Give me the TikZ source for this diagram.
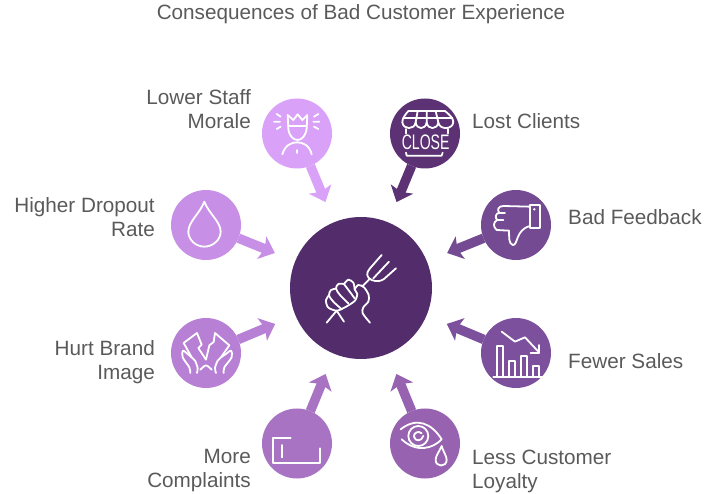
\documentclass[tikz,border=0pt]{standalone}
\usepackage{fontspec}
\setmainfont{Liberation Sans}
\usetikzlibrary{arrows.meta}
\definecolor{inkgray}{HTML}{5A5A5A}
\definecolor{hubcol}{HTML}{532C6C}
\definecolor{closecol}{HTML}{5C3274}
\definecolor{thumbcol}{HTML}{744A92}
\definecolor{salescol}{HTML}{7C509C}
\definecolor{eyecol}{HTML}{9763B0}
\definecolor{boxcol}{HTML}{A873C2}
\definecolor{brandcol}{HTML}{B780D4}
\definecolor{dropcol}{HTML}{C88FE6}
\definecolor{staffcol}{HTML}{D9A1F7}
\tikzset{
  spot/.style={circle,fill=#1,minimum size=70pt,inner sep=0pt,outer sep=0pt},
  hub/.style={circle,fill=hubcol,minimum size=142pt,inner sep=0pt,outer sep=0pt},
  push/.style={draw=#1,line width=9.5pt,shorten >=22pt,
    -{Stealth[length=14pt,width=24pt,inset=3pt]}},
  tag/.style={font=\fontsize{20.7}{24}\selectfont,text=inkgray,inner sep=0pt},
  zoomed/.style={shift={(#1)},x=0.3333pt,y=-0.3333pt,white,line width=1.8pt,
    line cap=round,line join=round},
}
\begin{document}
\begin{tikzpicture}[x=1pt,y=-1pt]
  \useasboundingbox (0,0) rectangle (710,494);

  % the title
  \node[tag] (title) at (361,14) {Consequences of Bad Customer Experience};

  % the hub and the eight spots round it
  \node[hub] (hub) at (361,288) {};
  \node[spot=staffcol] (staff) at (297,133.5) {};
  \node[spot=closecol] (close) at (425,133.5) {};
  \node[spot=thumbcol] (thumb) at (516,225) {};
  \node[spot=salescol] (sales) at (516,353) {};
  \node[spot=eyecol] (eye) at (425,443.5) {};
  \node[spot=boxcol] (box) at (297,443.5) {};
  \node[spot=brandcol] (brand) at (206,353) {};
  \node[spot=dropcol] (drop) at (206,225) {};

  % the arrows
  \draw[push=staffcol] (staff) -- (hub);
  \draw[push=closecol] (close) -- (hub);
  \draw[push=thumbcol] (thumb) -- (hub);
  \draw[push=salescol] (sales) -- (hub);
  \draw[push=eyecol] (eye) -- (hub);
  \draw[push=boxcol] (box) -- (hub);
  \draw[push=brandcol] (brand) -- (hub);
  \draw[push=dropcol] (drop) -- (hub);

  % the labels
  \node[tag,align=right,anchor=east] (stafftag) at (251,109) {Lower Staff\\Morale};
  \node[tag,anchor=west] (closetag) at (472,121) {Lost Clients};
  \node[tag,anchor=west] (thumbtag) at (568,217) {Bad Feedback};
  \node[tag,anchor=west] (salestag) at (568,361) {Fewer Sales};
  \node[tag,align=left,anchor=west] (eyetag) at (472,471) {Less Customer\\Loyalty};
  \node[tag,align=right,anchor=east] (boxtag) at (251,471) {More\\Complaints};
  \node[tag,align=right,anchor=east] (brandtag) at (155,362.5) {Hurt Brand\\Image};
  \node[tag,align=right,anchor=east] (droptag) at (155,217) {Higher Dropout\\Rate};

  % hand and fork
  \begin{scope}[zoomed={320,250}]
    \draw (185,15) -- (150,55) .. controls (138,68) and (138,82) .. (155,90)
      .. controls (170,96) and (182,94) .. (192,87) -- (228,55);
    \draw (207,35) -- (160,85);
    \draw (148,88) -- (128,108);
    \draw (50,182) -- (20,218) (50,182) -- (72,215);
    \draw plot[smooth] coordinates {(72,102) (85,89) (100,98) (104,118)};
    \draw plot[smooth] coordinates {(104,118) (115,105) (132,112) (146,135) (145,155) (130,172) (128,190) (150,218)};
    \draw (104,118) -- (112,132);
    \draw plot[smooth] coordinates {(72,102) (55,102) (48,116) (60,135) (85,160)};
    \draw plot[smooth] coordinates {(48,116) (33,120) (27,136) (40,155) (62,175)};
    \draw plot[smooth] coordinates {(27,136) (18,150) (24,172) (50,182) (75,172) (105,152) (112,132)};
    \draw (72,102) -- (104,145);
  \end{scope}

  % crowned head
  \begin{scope}[zoomed={250,85}]
    \draw (113,90) -- (130,105) -- (143,88) -- (157,105) -- (172,90) -- (170,130)
      .. controls (168,152) and (155,165) .. (143,165)
      .. controls (130,165) and (116,152) .. (115,130) -- cycle;
    \draw (115,122) -- (170,122);
    \draw (97,208) .. controls (105,180) and (125,172) .. (141,172)
      .. controls (158,172) and (178,180) .. (185,208);
    \draw (141,195) -- (141,204);
    \draw (80,87) -- (92,95) (72,110) -- (90,110) (80,132) -- (92,125);
    \draw (205,87) -- (192,95) (208,110) -- (190,110) (205,132) -- (192,125);
  \end{scope}

  % shop
  \begin{scope}[zoomed={250,85}]
    \draw (475,78) -- (585,78) .. controls (600,90) and (610,100) .. (610,112)
      (475,78) .. controls (465,90) and (457,100) .. (457,112);
    \draw (460,98) -- (607,98);
    \draw (503,78) -- (497,112) (530,78) -- (530,112) (557,78) -- (565,112);
    \draw (457,112) .. controls (460,135) and (494,135) .. (497,112)
      .. controls (500,135) and (527,135) .. (530,112)
      .. controls (533,135) and (562,135) .. (565,112)
      .. controls (568,135) and (607,135) .. (610,112);
    \draw (468,132) -- (468,145) (594,132) -- (594,145);
    \node[inner sep=0pt,text=white,font=\fontsize{21}{21}\selectfont,xscale=.67] (closeword) at (527,172) {CLOSE};
    \draw (468,203) -- (470,212) -- (575,212) -- (578,203);
  \end{scope}

  % thumb down
  \begin{scope}[zoomed={440,180}]
    \draw (270,75) rectangle (300,143);
    \fill (283,88) circle (1.3pt);
    \draw (270,80) -- (190,78) .. controls (175,78) and (170,90) .. (178,98)
      .. controls (165,100) and (165,115) .. (172,120)
      .. controls (160,125) and (158,140) .. (170,150)
      -- (207,152) .. controls (208,170) and (205,190) .. (218,195)
      .. controls (235,197) and (225,150) .. (270,138);
    \draw (178,98) -- (195,98) (172,120) -- (190,120);
  \end{scope}

  % falling bars
  \begin{scope}[zoomed={440,180}]
    \draw (160,590) -- (305,590);
    \draw (170,590) -- (170,498) -- (190,498) -- (190,590);
    \draw (207,590) -- (207,543) -- (225,543) -- (225,590);
    \draw (243,590) -- (243,528) -- (262,528) -- (262,590);
    \draw (280,590) -- (280,558) -- (298,558) -- (298,590);
    \draw (185,455) -- (225,485) -- (255,472) -- (298,518);
    \draw (298,495) -- (298,518) -- (272,518);
  \end{scope}

  % crying eye
  \begin{scope}[zoomed={250,370}]
    \draw (452,178) .. controls (500,140) and (545,160) .. (575,208)
      .. controls (550,235) and (500,250) .. (455,208);
    \draw (505,198) circle (10pt);
    \draw (515,190) .. controls (505,180) and (490,190) .. (492,200)
      .. controls (495,215) and (515,215) .. (520,198);
    \draw (575,228) .. controls (565,250) and (557,258) .. (557,270)
      .. controls (557,292) and (590,292) .. (590,270)
      .. controls (590,258) and (582,250) .. (575,228);
  \end{scope}

  % broken frame
  \begin{scope}[zoomed={250,370}]
    \draw (122,205) -- (70,205) -- (70,280) -- (210,280) -- (210,235);
    \draw (97,225) -- (97,262);
  \end{scope}

  % torn picture in two hands
  \begin{scope}[zoomed={171,318}]
    \draw (38,75) -- (78,45) -- (92,80) -- (82,90) -- (105,125) -- (115,82) -- (128,72) -- (132,45) -- (175,82);
    \draw (38,75) -- (62,118) (175,82) -- (150,118);
    \draw plot[smooth] coordinates {(58,165) (55,148) (35,118) (36,98) (50,108) (62,118) (72,128) (80,150) (78,165)};
    \draw plot[smooth] coordinates {(158,165) (160,148) (182,118) (180,98) (165,108) (150,118) (140,128) (132,150) (135,165)};
    \draw plot[smooth] coordinates {(88,155) (105,142) (122,155)};
  \end{scope}

  % drop
  \begin{scope}[zoomed={160,180}]
    \draw (133,65) .. controls (120,100) and (85,125) .. (85,155)
      .. controls (85,180) and (108,200) .. (133,200)
      .. controls (158,200) and (182,180) .. (182,155)
      .. controls (182,125) and (146,100) .. (133,65);
  \end{scope}
\end{tikzpicture}
\end{document}
